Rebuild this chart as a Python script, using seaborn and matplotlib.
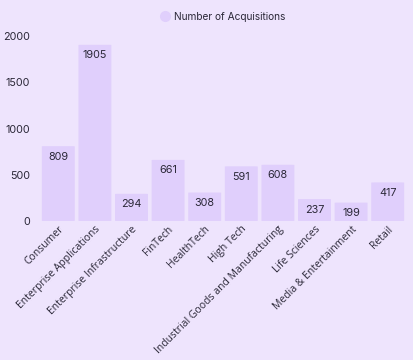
import matplotlib
matplotlib.use("Agg")
import matplotlib.pyplot as plt
import seaborn as sns
import pandas as pd
from matplotlib.lines import Line2D
from matplotlib.patches import FancyBboxPatch

categories = ["Consumer", "Enterprise Applications", "Enterprise Infrastructure", "FinTech",
              "HealthTech", "High Tech", "Industrial Goods and Manufacturing", "Life Sciences",
              "Media & Entertainment", "Retail"]
acquisitions = [809, 1905, 294, 661, 308, 591, 608, 237, 199, 417]
series_name = "Number of Acquisitions"
y_ticks = [0, 500, 1000, 1500, 2000]

bg = "#EEE4FD"
bar_color = "#E0CFFC"
text_color = "#2B2838"

sns.set_theme(style="white")
plt.rcParams['font.family'] = ['Inter', 'DejaVu Sans']

df = pd.DataFrame({"category": categories, "value": acquisitions})

fig = plt.figure(figsize=(4.14, 3.6), dpi=100, facecolor=bg)
ax = fig.add_axes([40/414, 1-221/360, 366/414, 185/360])
ax.set_facecolor(bg)

sns.barplot(data=df, x="category", y="value", color=bar_color, width=0.9,
            saturation=1, ax=ax, edgecolor="none")

ax.set_ylim(0, 2000)
ax.set_xlim(-0.5, len(categories) - 0.5)

# round the bar corners slightly
for p in list(ax.patches):
    x, y, w, h = p.get_x(), p.get_y(), p.get_width(), p.get_height()
    rb = FancyBboxPatch((x, y), w, h, boxstyle="round,pad=0,rounding_size=0.06",
                        mutation_aspect=2000 / 185 * 36.6 / 1.0 / 10 * 1.0,
                        facecolor=p.get_facecolor(), edgecolor="none")
    p.set_visible(False)
    ax.add_patch(rb)

ax.set_yticks(y_ticks)
ax.set_yticklabels([str(t) for t in y_ticks], fontsize=7.8, color=text_color)
ax.tick_params(axis='y', length=0, pad=7)
ax.tick_params(axis='x', length=0, pad=2)
ax.set_xticks(range(len(categories)))
ax.set_xticklabels(categories, rotation=45, ha='right', rotation_mode='anchor',
                   fontsize=7.5, color=text_color, family=['Open Sans', 'DejaVu Sans'])
ax.set_xlabel("")
ax.set_ylabel("")
for s in ax.spines.values():
    s.set_visible(False)
ax.grid(False)

for i, v in enumerate(acquisitions):
    ax.annotate(str(v), (i, v), xytext=(0, -4), textcoords='offset points',
                ha='center', va='top', fontsize=7.8, color=text_color)

handle = Line2D([], [], marker='o', linestyle='none', markersize=8,
                markerfacecolor=bar_color, markeredgecolor='none')
fig.legend([handle], [series_name], loc='center', bbox_to_anchor=(223/414, 1-17/360),
           frameon=False, fontsize=7.3, handletextpad=0.4, labelcolor=text_color,
           handlelength=1.0)

fig.savefig("out.png", dpi=100, facecolor=bg)
